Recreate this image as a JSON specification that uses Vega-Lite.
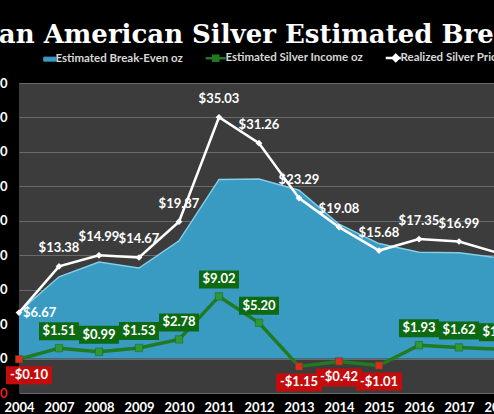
{
  "$schema": "https://vega.github.io/schema/vega-lite/v6.json",
  "autosize": {"type": "none"},
  "width": 475,
  "height": 310,
  "padding": {"left": 19, "top": 83, "right": 0, "bottom": 21},
  "background": "#000000",
  "title": {
    "text": "Pan American Silver Estimated Break-Even",
    "anchor": "start",
    "frame": "group",
    "dx": -39,
    "dy": 0,
    "font": "DejaVu Serif",
    "fontSize": 26,
    "fontWeight": "bold",
    "color": "#ffffff"
  },
  "data": {
    "values": [
      {"year": "2004", "price": 6.67, "income": -0.10, "breakeven": 6.77},
      {"year": "2007", "price": 13.38, "income": 1.51, "breakeven": 11.87},
      {"year": "2008", "price": 14.99, "income": 0.99, "breakeven": 14.00},
      {"year": "2009", "price": 14.67, "income": 1.53, "breakeven": 13.14},
      {"year": "2010", "price": 19.87, "income": 2.78, "breakeven": 17.09},
      {"year": "2011", "price": 35.03, "income": 9.02, "breakeven": 26.01},
      {"year": "2012", "price": 31.26, "income": 5.20, "breakeven": 26.06},
      {"year": "2013", "price": 23.29, "income": -1.15, "breakeven": 24.44},
      {"year": "2014", "price": 19.08, "income": -0.42, "breakeven": 19.50},
      {"year": "2015", "price": 15.68, "income": -1.01, "breakeven": 16.69},
      {"year": "2016", "price": 17.35, "income": 1.93, "breakeven": 15.42},
      {"year": "2017", "price": 16.99, "income": 1.62, "breakeven": 15.37},
      {"year": "2018", "price": 15.30, "income": 1.35, "breakeven": 14.60}
    ]
  },
  "encoding": {
    "x": {
      "field": "year",
      "type": "ordinal",
      "scale": {"type": "point", "range": [0, 480], "padding": 0},
      "axis": {
        "title": null,
        "labelAngle": 0,
        "domain": false,
        "ticks": false,
        "grid": false,
        "labelFont": "Lato",
        "labelFontSize": 13,
        "labelFontWeight": "bold",
        "labelColor": "#ffffff",
        "labelPadding": 8,
        "labelOverlap": false
      }
    }
  },
  "layer": [
    {
      "mark": {"type": "area"},
      "encoding": {
        "y": {
          "field": "breakeven",
          "type": "quantitative",
          "scale": {"domain": [-5, 40], "nice": false, "zero": false},
          "axis": {"title": null, "format": "$.2f", "labelColor": {"condition": {"test": "datum.value < 0", "value": "#e02020"}, "value": "#ffffff"}}
        },
        "y2": {"datum": 0},
        "color": {
          "datum": "Estimated Break-Even oz",
          "type": "nominal",
          "scale": {
            "domain": ["Estimated Break-Even oz", "Estimated Silver Income oz", "Realized Silver Price oz"],
            "range": ["#3a9bc2", "#1f7a22", "#ffffff"]
          },
          "legend": {
            "orient": "none",
            "legendX": 21,
            "legendY": -31,
            "direction": "horizontal",
            "title": null,
            "padding": 0,
            "labelColor": "#d8d8d8",
            "labelFont": "Lato",
            "labelFontSize": 11.5,
            "labelFontWeight": "bold",
            "symbolSize": 400,
            "labelOffset": 4,
            "columnPadding": 17,
            "encode": {
              "symbols": {
                "update": {
                  "shape": {"signal": "datum.value === 'Estimated Break-Even oz' ? 'M-0.2,-0.2H1V0.2H-0.2Z' : datum.value === 'Estimated Silver Income oz' ? 'M-1,0H1M-0.25,-0.25H0.25V0.25H-0.25Z' : 'M-0.5,0H1M0.5,-0.3L0.8,0L0.5,0.3L0.2,0Z'"},
                  "fill": {"scale": "color", "field": "value"},
                  "stroke": {"signal": "datum.value === 'Estimated Break-Even oz' ? '#8fd3ec' : scale('color', datum.value)"},
                  "strokeWidth": {"signal": "datum.value === 'Estimated Break-Even oz' ? 1 : 2.5"},
                  "opacity": {"value": 1}
                }
              }
            }
          }
        }
      }
    },
    {
      "mark": {"type": "line", "color": "#86cde6", "strokeWidth": 1.5},
      "encoding": {
        "y": {"field": "breakeven", "type": "quantitative", "axis": {"title": null, "format": "$.2f"}}
      }
    },
    {
      "mark": {"type": "line", "strokeWidth": 2.5},
      "encoding": {
        "y": {"field": "price", "type": "quantitative", "axis": {"title": null, "format": "$.2f"}},
        "color": {"datum": "Realized Silver Price oz", "type": "nominal"}
      }
    },
    {
      "mark": {"type": "line", "strokeWidth": 3.5},
      "encoding": {
        "y": {"field": "income", "type": "quantitative", "axis": {"title": null, "format": "$.2f"}},
        "color": {"datum": "Estimated Silver Income oz", "type": "nominal"}
      }
    },
    {
      "mark": {"type": "point", "shape": "diamond", "filled": true, "size": 45, "color": "#ffffff", "opacity": 1},
      "encoding": {
        "y": {"field": "price", "type": "quantitative", "axis": {"title": null, "format": "$.2f"}}
      }
    },
    {
      "mark": {"type": "point", "shape": "square", "filled": true, "size": 55, "opacity": 1, "stroke": "#1a5e1a", "strokeWidth": 0.5},
      "encoding": {
        "y": {"field": "income", "type": "quantitative", "axis": {"title": null, "format": "$.2f"}},
        "fill": {"condition": {"test": "datum.income < 0", "value": "#e02a20"}, "value": "#2f9a35"}
      }
    },
    {
      "transform": [{"filter": "datum.year !== '2004' && datum.year !== '2018'"}],
      "mark": {"type": "text", "dy": -18, "font": "Lato", "fontSize": 13, "fontWeight": "bold", "color": "#ffffff"},
      "encoding": {
        "y": {"field": "price", "type": "quantitative", "axis": {"title": null, "format": "$.2f"}},
        "text": {"field": "price", "type": "quantitative", "format": "$.2f"}
      }
    },
    {
      "transform": [{"filter": "datum.year === '2004'"}],
      "mark": {"type": "text", "align": "left", "dx": 4, "font": "Lato", "fontSize": 13, "fontWeight": "bold", "color": "#ffffff"},
      "encoding": {
        "y": {"field": "price", "type": "quantitative", "axis": {"title": null, "format": "$.2f"}},
        "text": {"field": "price", "type": "quantitative", "format": "$.2f"}
      }
    },
    {
      "transform": [{"filter": "datum.income >= 0"}],
      "mark": {"type": "point", "shape": "M-2,-0.9H2V0.9H-2Z", "size": 400, "filled": true, "color": "#0d6a12", "opacity": 1, "yOffset": -17},
      "encoding": {
        "y": {"field": "income", "type": "quantitative", "axis": {"title": null, "format": "$.2f"}}
      }
    },
    {
      "transform": [{"filter": "datum.income >= 0"}],
      "mark": {"type": "text", "dy": -17, "font": "Lato", "fontSize": 13, "fontWeight": "bold", "color": "#ffffff"},
      "encoding": {
        "y": {"field": "income", "type": "quantitative", "axis": {"title": null, "format": "$.2f"}},
        "text": {"field": "income", "type": "quantitative", "format": "$.2f"}
      }
    },
    {
      "transform": [
        {"filter": "datum.income < 0 && datum.year !== '2004'"},
        {"calculate": "'-$' + format(-datum.income, '.2f')", "as": "negLabel"}
      ],
      "mark": {"type": "point", "shape": "M-2.3,-0.9H2.3V0.9H-2.3Z", "size": 400, "filled": true, "color": "#c40c0c", "opacity": 1, "yOffset": 16},
      "encoding": {"y": {"field": "income", "type": "quantitative", "axis": {"title": null, "format": "$.2f"}}}
    },
    {
      "transform": [
        {"filter": "datum.income < 0 && datum.year !== '2004'"},
        {"calculate": "'-$' + format(-datum.income, '.2f')", "as": "negLabel"}
      ],
      "mark": {"type": "text", "dy": 16, "font": "Lato", "fontSize": 13, "fontWeight": "bold", "color": "#ffffff"},
      "encoding": {
        "y": {"field": "income", "type": "quantitative", "axis": {"title": null, "format": "$.2f"}},
        "text": {"field": "negLabel"}
      }
    },
    {
      "transform": [
        {"filter": "datum.year === '2004'"}
      ],
      "mark": {"type": "point", "shape": "M-2.3,-0.9H2.3V0.9H-2.3Z", "size": 400, "filled": true, "color": "#c40c0c", "opacity": 1, "yOffset": 16, "xOffset": 10},
      "encoding": {"y": {"field": "income", "type": "quantitative", "axis": {"title": null, "format": "$.2f"}}}
    },
    {
      "transform": [
        {"filter": "datum.year === '2004'"},
        {"calculate": "'-$' + format(-datum.income, '.2f')", "as": "negLabel"}
      ],
      "mark": {"type": "text", "dy": 16, "dx": 10, "font": "Lato", "fontSize": 13, "fontWeight": "bold", "color": "#ffffff"},
      "encoding": {
        "y": {"field": "income", "type": "quantitative", "axis": {"title": null, "format": "$.2f"}},
        "text": {"field": "negLabel"}
      }
    }
  ],
  "config": {
    "view": {"fill": "#3c3c3c", "stroke": null},
    "axisY": {
      "grid": true,
      "gridColor": "#6a6a6a",
      "gridWidth": 1,
      "domain": false,
      "ticks": false,
      "tickCount": 9,
      "labelFont": "Lato",
      "labelFontSize": 13,
      "labelFontWeight": "bold",
      "labelColor": "#ffffff",
      "labelPadding": 12,
      "zindex": 1
    }
  }
}
